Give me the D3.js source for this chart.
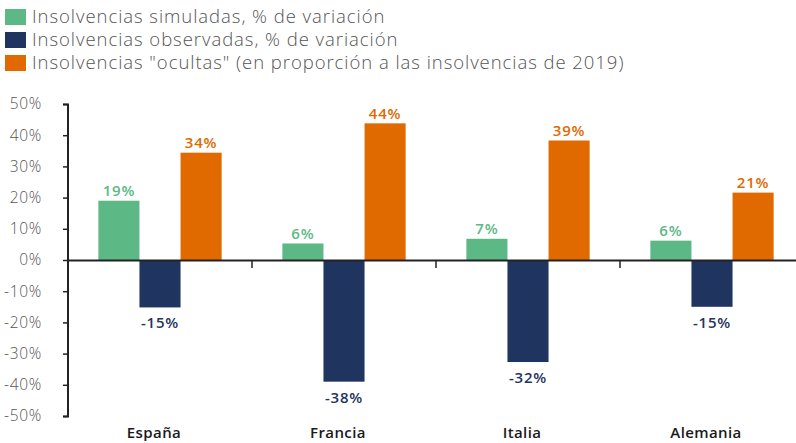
<!DOCTYPE html>
<html><head><meta charset="utf-8">
<script src="https://cdn.jsdelivr.net/npm/d3@7"></script>
<style>body{margin:0;background:#fff}svg{display:block}</style>
</head><body>
<script>
const categories = ["España", "Francia", "Italia", "Alemania"];
const seriesNames = [
  "Insolvencias simuladas, % de variación",
  "Insolvencias observadas, % de variación",
  "Insolvencias \"ocultas\" (en proporción a las insolvencias de 2019)"
];
const simuladas = [19.0, 5.3, 6.8, 6.2];
const observadas = [-15.2, -39.0, -32.7, -15.0];
const ocultas = [34.4, 43.8, 38.3, 21.6];
const simuladasLabels = ["19%", "6%", "7%", "6%"];
const observadasLabels = ["-15%", "-38%", "-32%", "-15%"];
const ocultasLabels = ["34%", "44%", "39%", "21%"];
const yTicks = [-50, -40, -30, -20, -10, 0, 10, 20, 30, 40, 50];
const colors = ["#5cb985", "#1f3560", "#e06a00"];

const W = 796, H = 443;
const svg = d3.select("body").append("svg").attr("width", W).attr("height", H);
const font = "'Open Sans', 'Noto Sans', sans-serif";

const y = d3.scaleLinear().domain([-50, 50]).range([416, 104]);
const x = d3.scaleBand().domain(categories).range([68, 804]).paddingInner(0).paddingOuter(0);
const inner = d3.scaleBand().domain([0,1,2]).range([x.bandwidth()*0.165, x.bandwidth()*0.835]).padding(0);

const series = [simuladas, observadas, ocultas];
const labels = [simuladasLabels, observadasLabels, ocultasLabels];

// bars
series.forEach((vals, si) => {
  svg.append("g").selectAll("rect").data(vals).join("rect")
    .attr("x", (d,i) => x(categories[i]) + inner(si))
    .attr("width", inner.bandwidth())
    .attr("y", d => y(Math.max(0, d)))
    .attr("height", d => Math.abs(y(d) - y(0)))
    .attr("fill", colors[si]);
  svg.append("g").selectAll("text").data(vals).join("text")
    .attr("x", (d,i) => x(categories[i]) + inner(si) + inner.bandwidth()/2)
    .attr("y", d => d >= 0 ? y(d) - 4.5 : y(d) + 21)
    .attr("text-anchor", "middle")
    .attr("font-family", font).attr("font-weight", 600).attr("font-size", 15)
    .attr("letter-spacing", 0.8)
    .attr("fill", colors[si])
    .text((d,i) => labels[si][i]);
});

// y axis
const yAxis = svg.append("g").attr("transform", "translate(68,0)")
  .call(d3.axisLeft(y).tickValues(yTicks).tickFormat(d => d + "%").tickSize(5).tickPadding(21));
yAxis.select(".domain").attr("stroke", "#222").attr("stroke-width", 2).attr("d", "M-5,104.5H0V416.5H-5");
yAxis.selectAll(".tick line").attr("stroke", "#222").attr("stroke-width", 1.5);
yAxis.selectAll(".tick text").attr("font-family", font).attr("font-weight", 300).attr("font-size", 15.5)
  .attr("letter-spacing", 0.7).attr("fill", "#555");

// x axis at zero
const xAxis = svg.append("g").attr("transform", `translate(0,${y(0)})`)
  .call(d3.axisBottom(x).tickValues([]).tickSizeOuter(0));
xAxis.select(".domain").attr("stroke", "#222").attr("stroke-width", 2);
svg.append("g").selectAll("line").data(categories.slice(1)).join("line")
  .attr("x1", d => x(d)).attr("x2", d => x(d))
  .attr("y1", y(0)).attr("y2", y(0) + 8)
  .attr("stroke", "#222").attr("stroke-width", 1.5);

// category labels
svg.append("g").selectAll("text").data(categories).join("text")
  .attr("x", d => x(d) + x.bandwidth()/2 - 6)
  .attr("y", 438)
  .attr("text-anchor", "middle")
  .attr("font-family", font).attr("font-weight", 600).attr("font-size", 15)
  .attr("letter-spacing", 0.4)
  .attr("fill", "#1a1a1a")
  .text(d => d);

// legend
const leg = svg.append("g");
seriesNames.forEach((n, i) => {
  leg.append("rect").attr("x", 5).attr("y", 9 + i*23).attr("width", 21).attr("height", 16).attr("fill", colors[i]);
  leg.append("text").attr("x", 32).attr("y", 23 + i*23)
    .attr("font-family", font).attr("font-weight", 300).attr("font-size", 18.5)
    .attr("letter-spacing", 0.95).attr("fill", "#555")
    .text(n);
});
</script>
</body></html>
